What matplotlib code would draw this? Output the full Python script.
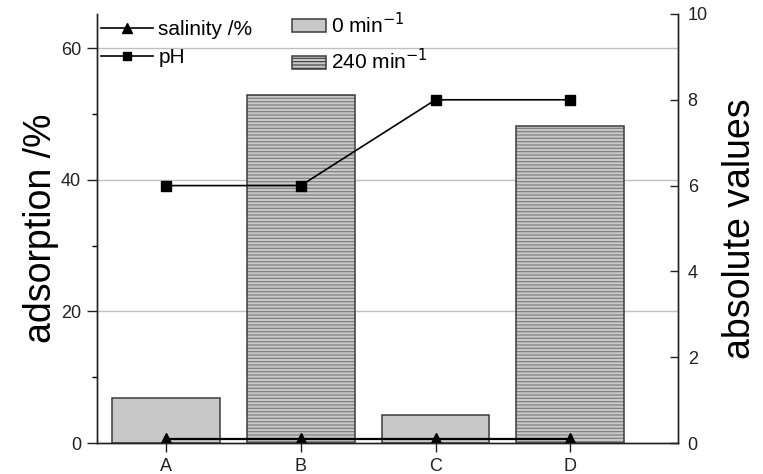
import numpy as np
import matplotlib
matplotlib.use('Agg')
import matplotlib.pyplot as plt
from matplotlib.lines import Line2D
from matplotlib.patches import Patch

plt.rcParams['font.family'] = ['Liberation Sans', 'DejaVu Sans']
plt.rcParams['hatch.linewidth'] = 0.8

# data
cats = ['A', 'B', 'C', 'D']
adsorption = [6.8, 52.9, 4.2, 48.2]
bar_group = ['0', '240', '0', '240']
salinity = [0.1, 0.1, 0.1, 0.1]
ph = [6, 6, 8, 8]

x = np.arange(len(cats))

fig = plt.figure(figsize=(7.63, 4.74), dpi=100)
ax = fig.add_axes([0.1271, 0.0654, 0.7615, 0.9051])
ax2 = ax.twinx()

fill = '#c8c8c8'
edge = '#3c3c3c'
for xi, v, g in zip(x, adsorption, bar_group):
    if g == '240':
        ax.bar(xi, v, 0.8, color=fill, edgecolor='#7a7a7a', hatch='-----', lw=0, zorder=2)
    else:
        ax.bar(xi, v, 0.8, color=fill, lw=0, zorder=2)
    ax.bar(xi, v, 0.8, fill=False, edgecolor=edge, lw=1.1, zorder=3)

ax2.plot(x, salinity, '-^', color='k', lw=1.6, ms=8)
ax2.plot(x, ph, '-s', color='k', lw=1.2, ms=6.5)

ax.set_xlim(-0.513, 3.80)
ax.set_ylim(0, 65.2)
ax2.set_ylim(0, 10)
ax.set_xticks(x)
ax.set_xticklabels(cats)
ax.set_yticks([0, 20, 40, 60])
ax.set_yticks([10, 30, 50], minor=True)
ax2.set_yticks([0, 2, 4, 6, 8, 10])

for a in (ax, ax2):
    a.spines['top'].set_visible(False)
    for s in a.spines.values():
        s.set_linewidth(1.0)
        s.set_color('#222222')
    a.tick_params(which='minor', direction='out', length=3.6, width=1.0)
ax.tick_params(axis='y', direction='out', length=7.5, width=1.0, pad=4, labelsize=13, colors='#222222')
ax.tick_params(axis='x', direction='out', length=6.5, width=1.0, pad=4, labelsize=13, colors='#222222')
ax2.tick_params(axis='y', direction='in', length=6, width=1.0, pad=7, labelsize=13, colors='#222222')

ax.set_axisbelow(True)
for gy in [20, 40, 60]:
    ax.axhline(gy, color='#c0c0c0', lw=1.0, zorder=0)

ax.set_ylabel('adsorption /%', fontsize=27, labelpad=1)
ax2.set_ylabel('absolute values', fontsize=27, labelpad=10)

h1 = [Line2D([], [], color='k', marker='^', lw=1.2, ms=7),
      Line2D([], [], color='k', marker='s', lw=1.2, ms=6)]
leg1 = ax2.legend(h1, ['salinity /%', 'pH'], loc='upper left', frameon=False,
                  fontsize=15, handlelength=2.5, handletextpad=0.25,
                  bbox_to_anchor=(0.007, 0.985), labelspacing=0.42,
                  borderaxespad=0, borderpad=0)
ax2.add_artist(leg1)
h2 = [Patch(facecolor=fill, edgecolor=edge, lw=1.1),
      Patch(facecolor=fill, edgecolor=edge, lw=1.1, hatch='-----')]
ax2.legend(h2, ['0 min$^{-1}$', '240 min$^{-1}$'], loc='upper left', frameon=False,
           fontsize=15, handlelength=1.6, handleheight=0.6, handletextpad=0.25,
           bbox_to_anchor=(0.336, 1.005), labelspacing=0.55,
           borderaxespad=0, borderpad=0)

fig.savefig('out.png', dpi=100)
